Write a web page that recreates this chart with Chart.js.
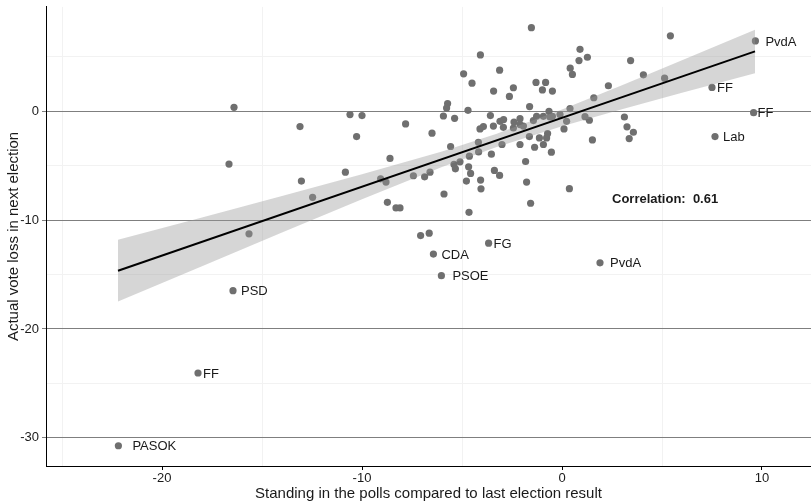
<html>
<head>
<script src="https://cdn.jsdelivr.net/npm/chart.js@4.4.1/dist/chart.umd.min.js"></script>
<style>
body { margin: 0; background: #fff; overflow: hidden; }
#wrap { width: 815px; height: 503px; }
</style>
</head>
<body>
<div id="wrap"><canvas id="myChart"></canvas></div>
<script type="text/javascript">

// unlabelled observations
var pollX = [-16.4,-16.65,-15.65,-13.1,-13.03,-12.47,-10.83,-10.6,-10.0,-10.27,-7.82,-8.6,-9.07,-8.8,-7.43,-6.87,-6.6,-8.73,-8.3,-8.1,-7.07,-6.64,
	-1.53,-4.08,-4.92,-3.12,-4.5,-3.42,-2.43,-2.63,-1.3,-0.82,-0.98,-0.48,-1.62,-5.72,-5.77,-5.93,-5.37,-4.7,-3.58,-3.1,-2.92,-3.43,-4.1,-3.93,
	-2.93,-2.43,-2.4,-2.1,-1.93,-1.43,-1.63,-1.13,-1.37,-2.1,-3.0,-4.18,-4.17,-3.53,-5.57,-4.63,-5.4,-5.1,-5.33,-4.67,-4.57,-4.78,-4.07,-4.05,
	-3.38,-3.12,-1.82,-1.77,-1.57,-4.65,-5.9,-6.5,-0.72,-0.77,-0.93,-0.53,0.37,0.9,0.85,1.27,0.41,0.52,3.43,4.07,5.13,2.32,1.59,5.42,0.4,
	-0.65,-0.93,-0.6,-0.48,-0.1,0.23,0.1,1.15,1.37,3.12,3.25,3.57,3.36,1.52,-2.1,-1.27];
var voteY = [0.37,-4.85,-11.26,-1.4,-6.41,-7.9,-5.59,-0.3,-0.39,-2.32,-1.16,-4.33,-6.2,-6.5,-5.92,-6.02,-5.59,-8.36,-8.88,-8.88,-11.42,-11.2,
	7.69,5.19,3.45,3.78,2.59,1.86,2.17,1.37,2.66,2.66,1.97,1.86,0.44,0.71,0.3,-0.43,-0.64,0.09,-0.39,-0.92,-0.76,-1.35,-1.62,-1.4,
	-1.47,-1.53,-0.98,-0.67,-1.35,-0.85,-2.32,-2.44,-3.3,-3.05,-3.05,-2.84,-3.73,-3.94,-3.23,-4.12,-4.88,-4.64,-5.28,-5.1,-5.71,-6.41,-6.32,-7.12,
	-5.43,-5.89,-4.61,-6.5,-8.45,-9.28,-7.6,-2.01,-2.04,-2.44,-3.05,-3.75,-7.11,5.7,4.67,4.97,3.97,3.39,4.67,3.36,3.05,2.35,1.25,6.94,0.25,
	0,-0.46,-0.52,-0.46,-0.3,-0.92,-1.62,-0.49,-0.82,-0.52,-1.42,-1.92,-2.5,-2.63,-1.22,-0.46];

// labelled observations
var partyNames = ["PSD","FF","PASOK","FG","CDA","PSOE","PvdA","PvdA","FF","FF","Lab"];
var partyX = [-16.45,-18.2,-22.18,-3.67,-6.43,-6.03,1.9,9.67,7.5,9.58,7.65];
var partyY = [-16.48,-24.05,-30.74,-12.12,-13.12,-15.11,-13.92,6.47,2.2,-0.12,-2.32];
var labelGap = [8,5,14,5,8,11,10,10,5,4,8];

// fitted line and 95% band
var fitX = [-22.2, 9.65];
var fitY = [-14.65, 5.51];
var bandX = [-22.2,-18,-14,-10,-6,-3.3,0,3,6,9.65];
var bandLow = [-17.49,-14.23,-11.14,-8.08,-5.12,-3.29,-1.37,0.2,1.71,3.51];
var bandHigh = [-11.81,-9.75,-7.78,-5.78,-3.68,-2.09,0.17,2.4,4.69,7.51];

var corrText = "Correlation:  0.61";
var corrAt = {x: 2.5, y: -8.1};

function pts(xs, ys){
	return xs.map(function(v, i){ return {x: v, y: ys[i]}; });
}

var labelPlugin = {
	id: "labels",
	afterDatasetsDraw: function(chart){
		var ctx = chart.ctx, xs = chart.scales.x, ys = chart.scales.y;
		ctx.save();
		ctx.fillStyle = "#1a1a1a";
		ctx.textBaseline = "middle";
		ctx.textAlign = "left";
		ctx.font = "13px 'Liberation Sans', Arial, sans-serif";
		partyNames.forEach(function(n, i){
			ctx.fillText(n, xs.getPixelForValue(partyX[i]) + labelGap[i], ys.getPixelForValue(partyY[i]) + 1);
		});
		ctx.font = "bold 13px 'Liberation Sans', Arial, sans-serif";
		ctx.fillText(corrText, xs.getPixelForValue(corrAt.x), ys.getPixelForValue(corrAt.y));
		ctx.restore();
	}
};

var tickFont = {family: "'Liberation Sans', Arial, sans-serif", size: 13, lineHeight: 0.6};

new Chart("myChart", {
	type: "scatter",
	data: {
		datasets: [{
			data: pts(pollX.concat(partyX), voteY.concat(partyY)),
			backgroundColor: "#6f6f6f",
			pointRadius: 3.6,
			pointBorderWidth: 0,
			order: 3
		}, {
			data: pts(bandX, bandLow),
			showLine: true,
			pointRadius: 0,
			borderWidth: 0,
			borderColor: "rgba(0,0,0,0)",
			order: 2
		}, {
			data: pts(bandX, bandHigh),
			showLine: true,
			pointRadius: 0,
			borderWidth: 0,
			borderColor: "rgba(0,0,0,0)",
			backgroundColor: "rgba(153,153,153,0.4)",
			fill: "-1",
			order: 2
		}, {
			data: pts(fitX, fitY),
			showLine: true,
			pointRadius: 0,
			borderColor: "#000",
			borderWidth: 2,
			order: 1
		}]
	},
	options: {
		responsive: true,
		maintainAspectRatio: false,
		animation: false,
		layout: {padding: {top: 5, right: 0, left: 0, bottom: 0}},
		plugins: {legend: {display: false}, tooltip: {enabled: false}},
		scales: {
			x: {
				type: "linear",
				min: -25.8, max: 12.45,
				afterFit: function(s){ s.height = 37; },
				border: {color: "#000", width: 1},
				grid: {
					color: function(c){ return (c.tick && c.tick.value % 10 !== 0) ? "#f2f2f2" : "rgba(0,0,0,0)"; },
					tickColor: function(c){ return (c.tick && c.tick.value % 10 === 0) ? "#000" : "rgba(0,0,0,0)"; },
					tickLength: 4
				},
				ticks: {
					stepSize: 5, includeBounds: false, autoSkip: false, maxRotation: 0,
					color: "#1a1a1a", font: {family: "'Liberation Sans', Arial, sans-serif", size: 13}, padding: 1,
					callback: function(v){ return v % 10 === 0 ? v : ""; }
				},
				title: {display: true, text: "Standing in the polls compared to last election result",
					color: "#1a1a1a", font: {family: "'Liberation Sans', Arial, sans-serif", size: 15}, padding: {top: 0, bottom: 0}}
			},
			y: {
				min: -32.6, max: 9.6,
				afterFit: function(s){ s.width = 46; },
				border: {color: "#000", width: 1},
				grid: {
					color: function(c){ return (c.tick && c.tick.value % 10 === 0) ? "#7f7f7f" : "#f2f2f2"; },
					tickColor: function(c){ return (c.tick && c.tick.value % 10 === 0) ? "#7f7f7f" : "rgba(0,0,0,0)"; },
					tickLength: 4
				},
				ticks: {
					stepSize: 5, includeBounds: false, autoSkip: false,
					color: "#1a1a1a", font: tickFont, padding: 3,
					callback: function(v){ return v % 10 === 0 ? v : ""; }
				},
				title: {display: true, text: "Actual vote loss in next election",
					color: "#1a1a1a", font: {family: "'Liberation Sans', Arial, sans-serif", size: 15}, padding: {top: 5, bottom: 0}}
			}
		}
	},
	plugins: [labelPlugin]
});
</script>
</body>
</html>
